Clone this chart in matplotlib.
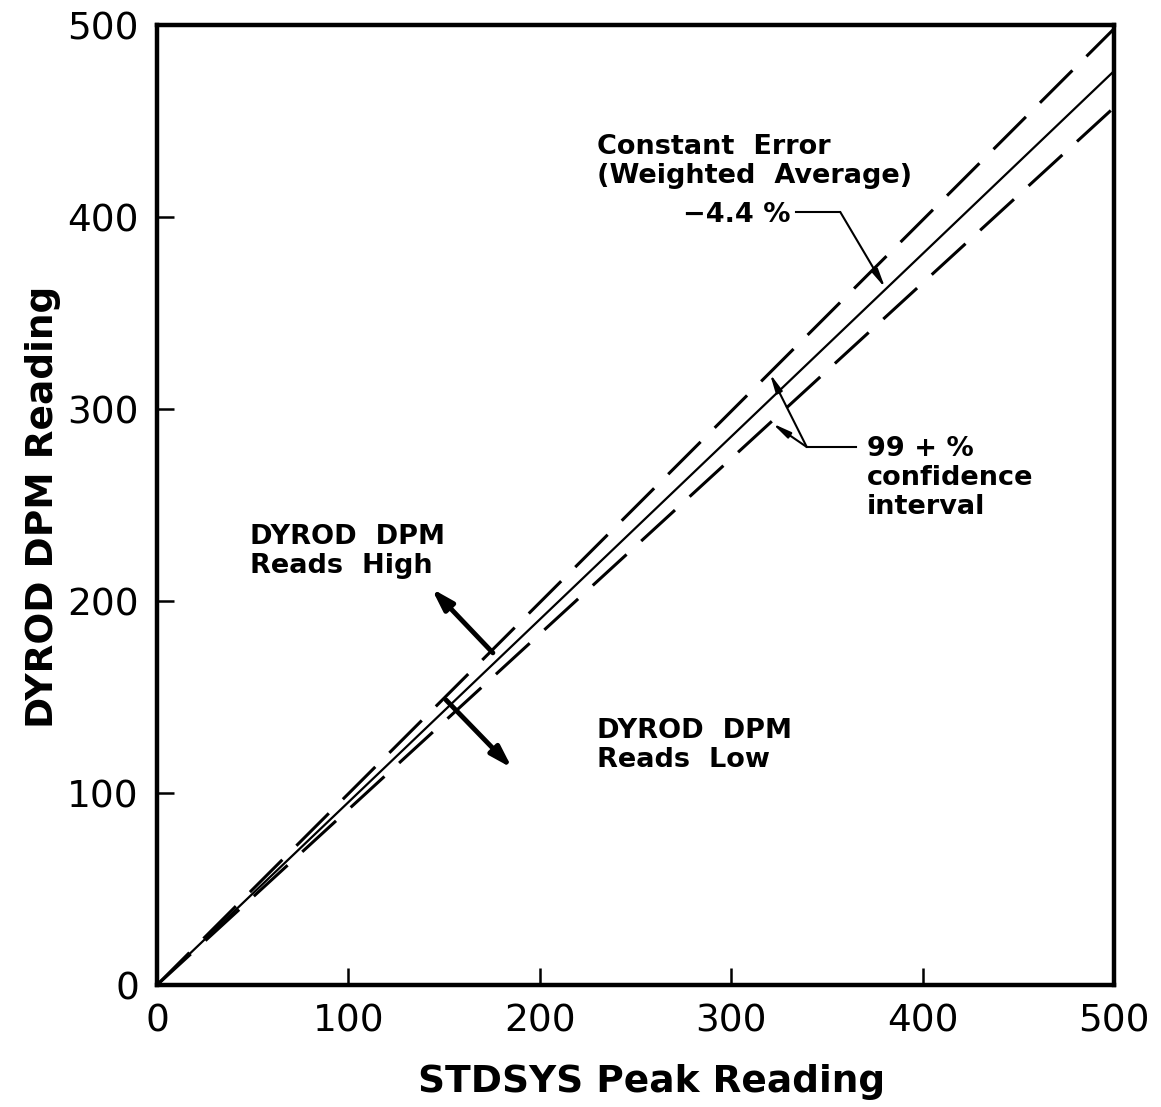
import numpy as np
from matplotlib import pyplot as plt

# readings (x = STDSYS, y = DYROD DPM)
stdsys = np.array([0, 500])
dpm_fit = np.array([0, 476])       # constant error -4.4 %
dpm_upper = np.array([0, 498])     # 99+ % confidence, upper
dpm_lower = np.array([0, 457])     # 99+ % confidence, lower

ticks = [0, 100, 200, 300, 400, 500]
tick_labels = ['0', '100', '200', '300', '400', '500']

plt.rcParams['font.family'] = ['DejaVu Sans']

fig = plt.figure(figsize=(11.61, 11.07), dpi=100)
ax = fig.add_axes([0.1352, 0.1102, 0.8243, 0.8672])

ax.plot(stdsys, dpm_fit, color='black', lw=1.6, solid_capstyle='butt')
for y in (dpm_upper, dpm_lower):
    ax.plot(stdsys, y, color='black', lw=2.2, dashes=(15, 6.5))

ax.set_xlim(0, 500)
ax.set_ylim(0, 500)
ax.set_xticks(ticks, tick_labels)
ax.set_yticks(ticks, tick_labels)
ax.tick_params(direction='in', length=12, width=1.8, labelsize=27, pad=13)
for s in ax.spines.values():
    s.set_linewidth(3.2)

ax.set_xlabel('STDSYS Peak Reading', fontsize=27, fontweight='bold')
ax.set_ylabel('DYROD DPM Reading', fontsize=27, fontweight='bold')
ax.xaxis.set_label_coords(0.517, -0.082)
ax.yaxis.set_label_coords(-0.100, 0.498)

txt = dict(fontsize=19.5, fontweight='semibold', color='black', linespacing=1.15)
thin = dict(arrowstyle='-|>,head_length=1.1,head_width=0.2',
            color='black', lw=1.5, shrinkA=0, shrinkB=0)
thick = dict(arrowstyle='-|>,head_length=1.3,head_width=0.4',
             color='black', lw=3.5, shrinkA=0, shrinkB=0)

# constant error note
ax.text(230, 443, 'Constant  Error\n(Weighted  Average)', ha='left', va='top', **txt)
ax.text(331, 401, '\u22124.4 %', ha='right', va='center', **txt)
ax.plot([334, 357], [402.6, 402.6], color='black', lw=1.5)
ax.annotate('', xy=(380.5, 363), xytext=(357, 402.6), arrowprops=thin)

# confidence interval note
ax.text(371, 286, '99 + %\nconfidence\ninterval', ha='left', va='top', **txt)
ax.plot([339.5, 365], [280.2, 280.2], color='black', lw=1.5)
for tip in [(320.2, 318.5), (321.5, 292.5)]:
    ax.annotate('', xy=tip, xytext=(339.5, 280.2), arrowprops=thin)

# reads high / low
ax.text(48.5, 240, 'DYROD  DPM\nReads  High', ha='left', va='top', **txt)
ax.annotate('', xy=(143.5, 206.5), xytext=(175.5, 173), arrowprops=thick)
ax.text(230, 139, 'DYROD  DPM\nReads  Low', ha='left', va='top', **txt)
ax.annotate('', xy=(185.5, 113), xytext=(151, 148.5), arrowprops=thick)

fig.savefig('out.png', dpi=100)
